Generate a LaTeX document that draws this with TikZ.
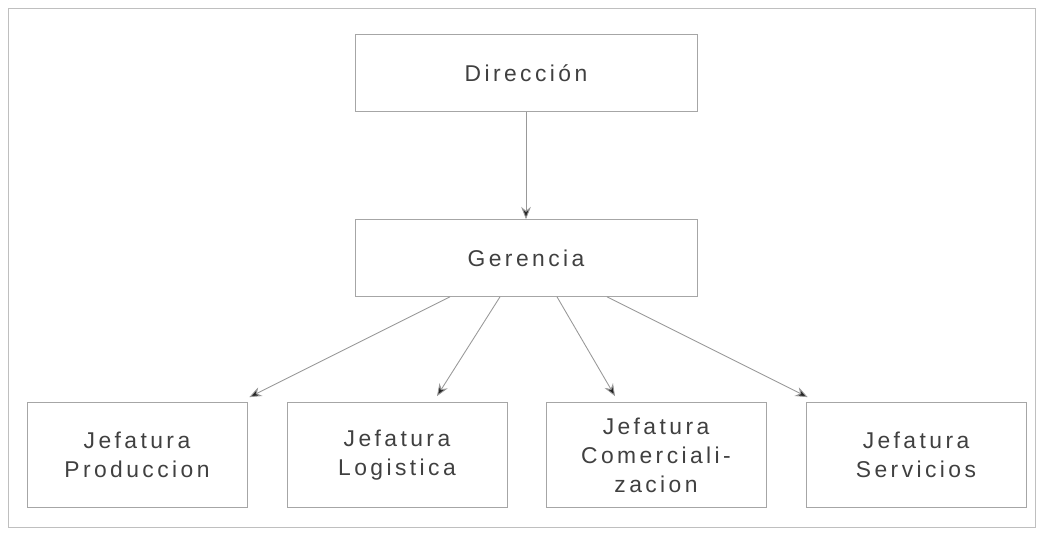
\documentclass[tikz,border=0pt]{standalone}
\usepackage{fontspec}
\newfontfamily\boxfont[LetterSpace=15]{Liberation Sans}
\usetikzlibrary{calc,arrows.meta}

\tikzset{
  unitbox/.style={draw=black!35, fill=white, align=center, text=black!75,
    font=\boxfont\fontsize{13}{16.5}\selectfont, inner sep=0pt},
  topbox/.style={unitbox, minimum width=6.84cm, minimum height=1.54cm},
  jefbox/.style={unitbox, minimum width=4.4cm, minimum height=2.1cm},
  link/.style={draw=black!40, line width=0.5pt, -{Stealth[length=7pt,width=5.5pt,fill=black!85]}}
}

\begin{document}
\begin{tikzpicture}[x=0.02cm, y=-0.02cm]
		%%%%% START %%%%%
		\useasboundingbox (0,0) rectangle (1042,533);
		\draw[black!25] (8,8) rectangle (1035,527);
		
		\node[topbox] (dir) at (526,73) {Dirección};
		\node[topbox] (ger) at (526,258) {Gerencia};
		
		\node[jefbox] (prod) at (137,455) {Jefatura\\Produccion};
		\node[jefbox] (log) at (397,455) {Jefatura\\Logistica};
		\node[jefbox] (com) at (656,455) {Jefatura\\Comerciali-\\zacion};
		\node[jefbox] (serv) at (916,455) {Jefatura\\Servicios};
		
		\draw[link] (dir.south) -- (ger.north);
		
		\draw[link] ($(ger.south)+(-76,0)$) -- ($(prod.north east)+(2,-5)$);
		\draw[link] ($(ger.south)+(-26,0)$) -- ($(log.north)+(40,-6)$);
		\draw[link] ($(ger.south)+(31,0)$) -- ($(com.north)+(-41,-6)$);
		\draw[link] ($(ger.south)+(81,0)$) -- ($(serv.north west)+(2,-5)$);
		%%%%% END %%%%%
\end{tikzpicture}
\end{document}
